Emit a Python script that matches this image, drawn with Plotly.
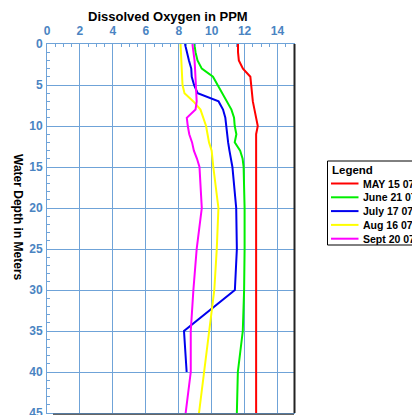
import plotly.graph_objects as go

# ---- data ----
depth = [0, 1, 2, 3, 4, 5, 6, 7, 8, 9, 10, 11, 12, 13, 14, 15, 20, 25, 30, 35, 40, 45]

may15 = [11.6, 11.6, 11.65, 11.9, 12.35, 12.4, 12.45, 12.5, 12.6, 12.7, 12.8, 12.7,
         12.7, 12.7, 12.7, 12.7, 12.7, 12.7, 12.7, 12.7, 12.7, 12.7]
june21 = [8.95, 9.02, 9.14, 9.4, 10.08, 10.36, 10.6, 10.88, 11.2, 11.36, 11.4, 11.5,
          11.4, 11.73, 11.88, 11.94, 12.0, 12.0, 11.97, 11.89, 11.59, 11.53]
july17_depth = [0, 1, 2, 3, 4, 5, 6, 7, 8, 9, 10, 11, 12, 13, 14, 15, 20, 25, 30, 35, 40]
july17 = [8.38, 8.49, 8.62, 8.76, 8.79, 8.93, 9.15, 10.42, 10.69, 10.83, 10.88, 10.94,
          11.0, 11.08, 11.17, 11.26, 11.49, 11.53, 11.41, 8.32, 8.48]
aug16 = [8.11, 8.14, 8.17, 8.19, 8.21, 8.23, 8.35, 8.89, 9.32, 9.51, 9.66, 9.75,
         9.84, 10.0, 10.05, 10.1, 10.41, 10.31, 10.16, 9.85, 9.54, 9.23]
sept20 = [8.83, 8.91, 8.96, 8.99, 9.01, 9.03, 9.05, 9.09, 9.02, 8.49, 8.55, 8.64,
          8.81, 8.92, 9.11, 9.26, 9.4, 9.09, 8.89, 8.73, 8.73, 8.42]

series_names = ["MAY 15 07", "June 21 07", "July 17 07", "Aug 16 07", "Sept 20 07"]
series_colors = ["#ff0000", "#00ee00", "#0000ee", "#ffff00", "#ff00ff"]
series_x = [may15, june21, july17, aug16, sept20]
series_y = [depth, depth, july17_depth, depth, depth]

x_ticks = [0, 2, 4, 6, 8, 10, 12, 14]
y_ticks = [0, 5, 10, 15, 20, 25, 30, 35, 40, 45]

# ---- style ----
FONT = "Liberation Sans, Arial, sans-serif"
AXIS_BLUE = "#6fa3d8"
LABEL_BLUE = "#4a84c2"

OFF = 8  # page body margin
L, R, T, B = 39, 126, 36, 2
W, H = 420 - OFF, 415 - OFF
PW, PH = W - L - R, H - T - B


def px_x(px):
    return (px - OFF - L) / PW


def px_y(py):
    return (H - B - (py - OFF)) / PH


fig = go.Figure()
for name, color, xs, ys in zip(series_names, series_colors, series_x, series_y):
    fig.add_trace(go.Scatter(x=xs, y=ys, mode="lines", name=name,
                             line=dict(color=color, width=2), showlegend=False))

fig.update_layout(
    width=W, height=H,
    margin=dict(l=L, r=R, t=T, b=B, pad=0),
    paper_bgcolor="white", plot_bgcolor="white",
    font=dict(family=FONT),
    xaxis=dict(
        side="top", range=[0, 15], tickvals=x_ticks, ticktext=[str(v) for v in x_ticks],
        ticks="inside", ticklen=0, tickcolor=AXIS_BLUE,
        showgrid=True, gridcolor=AXIS_BLUE, gridwidth=1,
        showline=True, linecolor=AXIS_BLUE, linewidth=1, mirror=True,
        tickfont=dict(family=FONT, size=12, color=LABEL_BLUE, weight="bold"),
        minor=dict(dtick=0.5, ticks="inside", ticklen=3, tickcolor=AXIS_BLUE, showgrid=False),
        zeroline=False, automargin=False, ticklabelstandoff=3, ticklabeloverflow="allow",
    ),
    yaxis=dict(
        range=[45, 0], tickvals=y_ticks, ticktext=[str(v) for v in y_ticks],
        ticks="inside", ticklen=0, tickcolor=AXIS_BLUE,
        showgrid=True, gridcolor=AXIS_BLUE, gridwidth=1,
        showline=True, linecolor=AXIS_BLUE, linewidth=1, mirror=True,
        tickfont=dict(family=FONT, size=12, color=LABEL_BLUE, weight="bold"),
        minor=dict(dtick=1, ticks="inside", ticklen=3, tickcolor=AXIS_BLUE, showgrid=False),
        zeroline=False, automargin=False, ticklabelstandoff=1, ticklabeloverflow="allow",
    ),
)

annotations = [
    dict(text="<b>Dissolved Oxygen in PPM</b>", xref="paper", yref="paper",
         x=px_x(168), y=px_y(16), xanchor="center", yanchor="middle", showarrow=False,
         font=dict(family=FONT, size=13, color="black")),
    dict(text="<b>Water Depth in Meters</b>", xref="paper", yref="paper",
         x=px_x(18), y=px_y(217), xanchor="center", yanchor="middle", showarrow=False,
         textangle=90, font=dict(family=FONT, size=12, color="black")),
    dict(text="<b>Legend</b>", xref="paper", yref="paper",
         x=px_x(330), y=px_y(170), xanchor="left", yanchor="middle", showarrow=False,
         font=dict(family=FONT, size=11.5, color="black")),
]

shapes = [
    # dark right and bottom frame edges
    dict(type="line", xref="paper", yref="paper", x0=1 + 0.5 / PW, x1=1 + 0.5 / PW, y0=0, y1=1,
         line=dict(color="#222222", width=2)),
    dict(type="line", xref="paper", yref="paper", x0=px_x(53), x1=1, y0=-1.2 / PH, y1=-1.2 / PH,
         line=dict(color="#222222", width=1)),
    # legend box
    dict(type="rect", xref="paper", yref="paper", x0=px_x(327.5), x1=px_x(440),
         y0=px_y(245), y1=px_y(161), line=dict(color="black", width=1), fillcolor="white",
         layer="below"),
]

for i, (name, color) in enumerate(zip(series_names, series_colors)):
    yy = 183.5 + i * 13.8
    shapes.append(dict(type="line", xref="paper", yref="paper", x0=px_x(331), x1=px_x(358.5),
                       y0=px_y(yy), y1=px_y(yy), line=dict(color=color, width=2)))
    annotations.append(dict(text="<b>" + name + "</b>", xref="paper", yref="paper",
                            x=px_x(361), y=px_y(yy), xanchor="left", yanchor="middle",
                            showarrow=False, font=dict(family=FONT, size=10.5, color="black")))

fig.update_layout(annotations=annotations, shapes=shapes)

fig.write_html("out.html")
